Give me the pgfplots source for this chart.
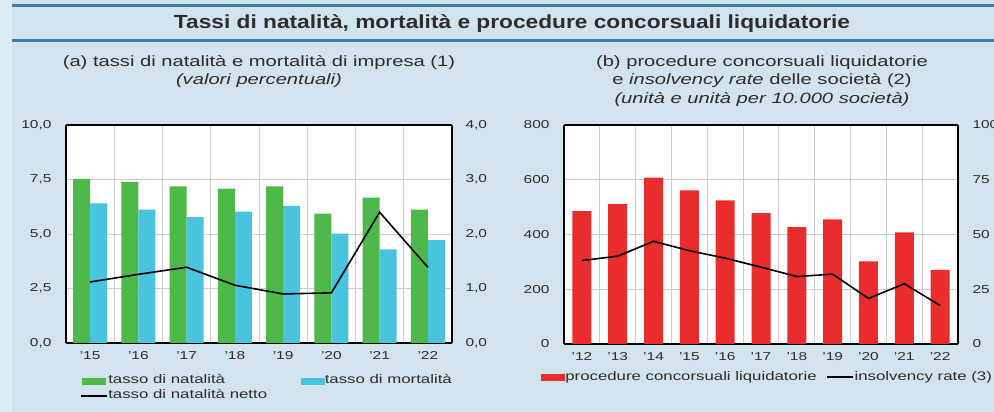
\documentclass[border=0pt]{standalone}
\usepackage{fontspec}
\setmainfont{Liberation Sans}[FakeStretch=1.35]
\newfontfamily\titlefont{Liberation Sans}[FakeStretch=1.2]
\usepackage{pgfplots}
\pgfplotsset{compat=1.18}
\definecolor{bg}{RGB}{210,227,237}
\definecolor{strip}{RGB}{219,236,243}
\definecolor{rulec}{RGB}{60,127,162}
\definecolor{gr}{RGB}{78,184,74}
\definecolor{cy}{RGB}{72,196,222}
\definecolor{rd}{RGB}{233,44,44}
\definecolor{txt}{RGB}{45,45,45}
\definecolor{gridc}{RGB}{205,205,205}
\pgfplotsset{common/.style={
  scale only axis,
  axis background/.style={fill=white},
  major tick length=0pt, minor tick length=0pt,
  tick label style={font=\fontsize{11.5}{13}\selectfont, text=txt},
  xticklabel style={yshift=-5bp},
  /pgf/number format/assume math mode=true,
  grid style={gridc, line width=0.9bp},
  minor grid style={gridc, line width=0.9bp},
  axis line style={black, line width=1.1bp},
  legend style={draw=none, fill=none, inner sep=0pt, font=\fontsize{12.5}{14}\selectfont, text=txt,
    nodes={inner sep=0.6bp, text height=9bp, text depth=3bp}, row sep=2bp},
  legend cell align=left,
}}
\begin{document}
\begin{tikzpicture}
\useasboundingbox (0bp,0bp) rectangle (994bp,412bp);
\fill[bg] (0bp,0bp) rectangle (994bp,412bp);
\fill[strip] (0bp,0bp) rectangle (12bp,412bp);
\draw[rulec, line width=2.5bp] (12bp,406.5bp) -- (994bp,406.5bp);
\draw[rulec, line width=2.5bp] (12bp,371.3bp) -- (994bp,371.3bp);
\node[font=\titlefont\bfseries\fontsize{19}{22}\selectfont, text=txt] at (512bp,388bp) {Tassi di natalità, mortalità e procedure concorsuali liquidatorie};
\begin{scope}[font=\fontsize{15}{17}\selectfont, text=txt]
\node at (259bp,349bp) {(a) tassi di natalità e mortalità di impresa (1)};
\node at (259bp,331bp) {\itshape (valori percentuali)};
\node at (762bp,349bp) {(b) procedure concorsuali liquidatorie};
\node at (762bp,331bp) {e \textit{insolvency rate} delle società (2)};
\node at (762bp,312bp) {\itshape (unità e unità per 10.000 società)};
\end{scope}

% ---------- panel (a)
\begin{axis}[common, at={(66bp,69bp)}, anchor=south west, width=386bp, height=218bp,
  xmin=-0.5, xmax=7.5, ymin=0, ymax=10,
  xtick={0,...,7}, xticklabels={'15,'16,'17,'18,'19,'20,'21,'22},
  minor xtick={0.5,1.5,...,6.5}, xminorgrids,
  ytick={0,2.5,5,7.5,10}, ymajorgrids,
  yticklabel style={xshift=-11bp, /pgf/number format/fixed, /pgf/number format/fixed zerofill, /pgf/number format/precision=1, /pgf/number format/use comma},
  axis y line*=left,
  ybar=0pt, bar width=17bp]
\addplot[fill=gr, draw=none] coordinates {(0,7.53) (1,7.39) (2,7.18) (3,7.08) (4,7.18) (5,5.94) (6,6.67) (7,6.12)};
\addplot[fill=cy, draw=none] coordinates {(0,6.41) (1,6.12) (2,5.79) (3,6.03) (4,6.29) (5,5.02) (6,4.29) (7,4.72)};
\end{axis}
\begin{axis}[common, at={(66bp,69bp)}, anchor=south west, width=386bp, height=218bp,
  xmin=-0.5, xmax=7.5, ymin=0, ymax=4,
  axis x line=none, axis y line*=right, axis background/.style={},
  ytick={0,1,2,3,4},
  yticklabel style={xshift=10bp, /pgf/number format/fixed, /pgf/number format/fixed zerofill, /pgf/number format/precision=1, /pgf/number format/use comma},
  legend columns=2,
  legend style={at={(axis description cs:0.036,-0.142)}, anchor=north west,
    /tikz/every even column/.append style={column sep=33bp}}]
\addlegendimage{legend image code/.code={\fill[gr] (1bp,-3bp) rectangle (24bp,3bp);}}
\addlegendentry{tasso di natalità}
\addlegendimage{legend image code/.code={\fill[cy] (1bp,-3bp) rectangle (24bp,3bp);}}
\addlegendentry{tasso di mortalità}
\addplot[black, line width=1.6bp, legend image code/.code={\draw[black, line width=1.6bp] (0bp,0bp) -- (26bp,0bp);}] coordinates {(0,1.12) (1,1.26) (2,1.39) (3,1.06) (4,0.90) (5,0.92) (6,2.40) (7,1.39)};
\addlegendentry{tasso di natalità netto}
\end{axis}

% ---------- panel (b)
\begin{axis}[common, at={(564bp,68bp)}, anchor=south west, width=394bp, height=219bp,
  xmin=-0.5, xmax=10.5, ymin=0, ymax=800,
  xtick={0,...,10}, xticklabels={'12,'13,'14,'15,'16,'17,'18,'19,'20,'21,'22},
  minor xtick={0.5,1.5,...,9.5}, xminorgrids,
  ytick={0,200,400,600,800}, ymajorgrids,
  yticklabel style={xshift=-11bp},
  axis y line*=left,
  ybar, bar width=19bp]
\addplot[fill=rd, draw=none] coordinates {(0,485) (1,511) (2,608) (3,561) (4,525) (5,478) (6,427) (7,455) (8,302) (9,408) (10,271)};
\end{axis}
\begin{axis}[common, at={(564bp,68bp)}, anchor=south west, width=394bp, height=219bp,
  xmin=-0.5, xmax=10.5, ymin=0, ymax=100,
  axis x line=none, axis y line*=right, axis background/.style={},
  ytick={0,25,50,75,100},
  yticklabel style={xshift=11bp},
  legend columns=2,
  legend style={at={(axis description cs:-0.058,-0.12)}, anchor=north west,
    /tikz/every even column/.append style={column sep=9bp}}]
\addlegendimage{legend image code/.code={\fill[rd] (1bp,-3bp) rectangle (24bp,3bp);}}
\addlegendentry{procedure concorsuali liquidatorie}
\addplot[black, line width=1.6bp, legend image code/.code={\draw[black, line width=1.6bp] (0bp,0bp) -- (26bp,0bp);}] coordinates {(0,38.1) (1,40.1) (2,46.9) (3,42.6) (4,39.2) (5,35.1) (6,30.8) (7,31.9) (8,20.8) (9,27.5) (10,17.6)};
\addlegendentry{insolvency rate (3)}
\end{axis}
\end{tikzpicture}
\end{document}
